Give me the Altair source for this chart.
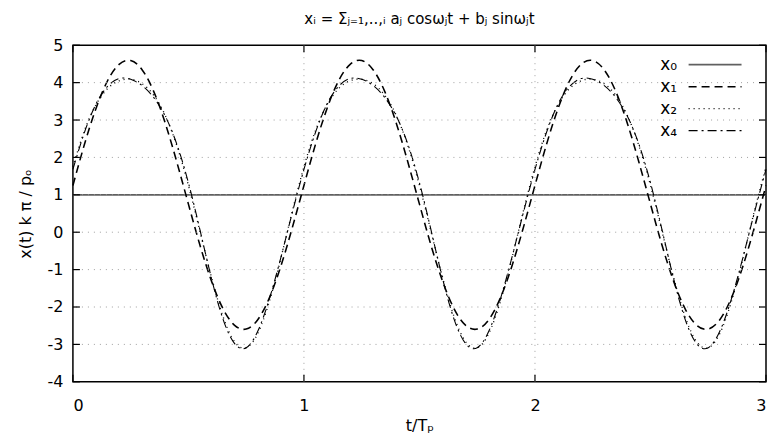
import altair as alt
import pandas as pd

# sampling grid (t/Tp)
t = [0.00, 0.05, 0.10, 0.15, 0.20, 0.25, 0.30, 0.35, 0.40, 0.45,
     0.50, 0.55, 0.60, 0.65, 0.70, 0.75, 0.80, 0.85, 0.90, 0.95,
     1.00, 1.05, 1.10, 1.15, 1.20, 1.25, 1.30, 1.35, 1.40, 1.45,
     1.50, 1.55, 1.60, 1.65, 1.70, 1.75, 1.80, 1.85, 1.90, 1.95,
     2.00, 2.05, 2.10, 2.15, 2.20, 2.25, 2.30, 2.35, 2.40, 2.45,
     2.50, 2.55, 2.60, 2.65, 2.70, 2.75, 2.80, 2.85, 2.90, 2.95,
     3.00]

x0_t = [0.0, 3.0]
x0_v = [1.0, 1.0]

x1_v = [1.25, 2.35, 3.31, 4.05, 4.49, 4.59, 4.34, 3.76, 2.91, 1.87,
        0.75, -0.35, -1.31, -2.05, -2.49, -2.59, -2.34, -1.76, -0.91, 0.13,
        1.25, 2.35, 3.31, 4.05, 4.49, 4.59, 4.34, 3.76, 2.91, 1.87,
        0.75, -0.35, -1.31, -2.05, -2.49, -2.59, -2.34, -1.76, -0.91, 0.13,
        1.25, 2.35, 3.31, 4.05, 4.49, 4.59, 4.34, 3.76, 2.91, 1.87,
        0.75, -0.35, -1.31, -2.05, -2.49, -2.59, -2.34, -1.76, -0.91, 0.13,
        1.25]

x2_v = [1.75, 2.72, 3.41, 3.84, 4.05, 4.09, 3.97, 3.66, 3.12, 2.31,
        1.25, 0.02, -1.21, -2.26, -2.93, -3.09, -2.71, -1.86, -0.70, 0.57,
        1.75, 2.72, 3.41, 3.84, 4.05, 4.09, 3.97, 3.66, 3.12, 2.31,
        1.25, 0.02, -1.21, -2.26, -2.93, -3.09, -2.71, -1.86, -0.70, 0.57,
        1.75, 2.72, 3.41, 3.84, 4.05, 4.09, 3.97, 3.66, 3.12, 2.31,
        1.25, 0.02, -1.21, -2.26, -2.93, -3.09, -2.71, -1.86, -0.70, 0.57,
        1.75]

x4_v = [1.68, 2.67, 3.43, 3.90, 4.11, 4.09, 3.92, 3.60, 3.10, 2.35,
        1.32, 0.06, -1.24, -2.33, -2.98, -3.09, -2.65, -1.79, -0.68, 0.53,
        1.68, 2.67, 3.43, 3.90, 4.11, 4.09, 3.92, 3.60, 3.10, 2.35,
        1.32, 0.06, -1.24, -2.33, -2.98, -3.09, -2.65, -1.79, -0.68, 0.53,
        1.68, 2.67, 3.43, 3.90, 4.11, 4.09, 3.92, 3.60, 3.10, 2.35,
        1.32, 0.06, -1.24, -2.33, -2.98, -3.09, -2.65, -1.79, -0.68, 0.53,
        1.68]

names = ["x\u2080", "x\u2081", "x\u2082", "x\u2084"]
colors = ["#606060", "#000000", "#000000", "#000000"]
dashes = [[1, 0], [8, 5], [1, 4], [9, 4, 2, 4]]
widths = [1.8, 1.1, 1.1, 1.1]

xticks = [0, 1, 2, 3]
yticks = [-4, -3, -2, -1, 0, 1, 2, 3, 4, 5]
xgrid = [1, 2]
ygrid = [-3, -2, -1, 0, 1, 2, 3, 4]

W, H = 694, 337
FONT = "DejaVu Sans"

rows = []
for tt, v in zip(x0_t, x0_v):
    rows.append({"series": names[0], "t": tt, "x": v})
for name, vals in zip(names[1:], [x1_v, x2_v, x4_v]):
    for tt, v in zip(t, vals):
        rows.append({"series": name, "t": tt, "x": v})
df = pd.DataFrame(rows)

xscale = alt.Scale(domain=[0, 3], nice=False, zero=False)
yscale = alt.Scale(domain=[-4, 5], nice=False, zero=False)

xaxis = alt.Axis(values=xticks, title="t/T\u209a", grid=False, ticks=False,
                 domain=False, labelFontSize=16, labelPadding=16,
                 titleFontSize=16, titlePadding=4, labelExpr="'' + datum.value")
yaxis = alt.Axis(values=yticks, title="x(t) k \u03c0 / p\u2092", grid=False,
                 ticks=False, domain=False, labelFontSize=16, labelPadding=10,
                 titleFontSize=16, titlePadding=14, labelExpr="'' + datum.value")

# legend symbol: a line drawn to the right of the label (gnuplot style)
leg = alt.Legend(
    title=None, orient="none", legendX=567, legendY=11,
    symbolType="M 8.2 0 L 18.8 0", symbolSize=100, symbolStrokeWidth=1.2,
    labelFontSize=17, labelFont=FONT, labelOffset=4,
    rowPadding=4, padding=0, labelColor="black",
)

lines = alt.Chart(df).mark_line(interpolate="natural").encode(
    x=alt.X("t:Q", scale=xscale, axis=xaxis),
    y=alt.Y("x:Q", scale=yscale, axis=yaxis),
    color=alt.Color("series:N", scale=alt.Scale(domain=names, range=colors), legend=leg),
    strokeDash=alt.StrokeDash("series:N", scale=alt.Scale(domain=names, range=dashes), legend=leg),
    strokeWidth=alt.StrokeWidth("series:N", scale=alt.Scale(domain=names, range=widths), legend=None),
)

gy = alt.Chart(pd.DataFrame({"v": ygrid})).mark_rule(
    color="#a0a0a0", strokeDash=[1, 5], strokeWidth=1).encode(
    y=alt.Y("v:Q", scale=yscale, axis=yaxis))
gx = alt.Chart(pd.DataFrame({"v": xgrid})).mark_rule(
    color="#a0a0a0", strokeDash=[1, 5], strokeWidth=1).encode(
    x=alt.X("v:Q", scale=xscale, axis=xaxis))

ydf = pd.DataFrame({"v": yticks})
xdf = pd.DataFrame({"v": xticks})
tl = alt.Chart(ydf).mark_rule(color="black", strokeWidth=1.2).encode(
    y=alt.Y("v:Q", scale=yscale, axis=yaxis), x=alt.value(0), x2=alt.value(7))
tr = alt.Chart(ydf).mark_rule(color="black", strokeWidth=1.2).encode(
    y=alt.Y("v:Q", scale=yscale, axis=yaxis), x=alt.value(W - 7), x2=alt.value(W))
tb = alt.Chart(xdf).mark_rule(color="black", strokeWidth=1.2).encode(
    x=alt.X("v:Q", scale=xscale, axis=xaxis), y=alt.value(H - 7), y2=alt.value(H))
tt_ = alt.Chart(xdf).mark_rule(color="black", strokeWidth=1.2).encode(
    x=alt.X("v:Q", scale=xscale, axis=xaxis), y=alt.value(0), y2=alt.value(7))

title = "x\u1d62 = \u03a3\u2c7c\u208c\u2081,..,\u1d62 a\u2c7c cos\u03c9\u2c7ct + b\u2c7c sin\u03c9\u2c7ct"

chart = alt.layer(lines, gy, gx, tl, tr, tb, tt_).properties(
    width=W, height=H,
    title=alt.TitleParams(title, fontSize=15, fontWeight="normal", font=FONT,
                          color="black", anchor="middle", offset=10),
    padding={"left": 65, "top": 37, "right": 2, "bottom": 58},
    autosize=alt.AutoSizeParams(type="none"),
).configure(font=FONT).configure_view(
    stroke="black", strokeWidth=1.5
).configure_axis(
    labelFont=FONT, titleFont=FONT, labelColor="black", titleColor="black",
    titleFontWeight="normal",
)

chart.save("out.html", embed_options={"renderer": "svg", "actions": False})
